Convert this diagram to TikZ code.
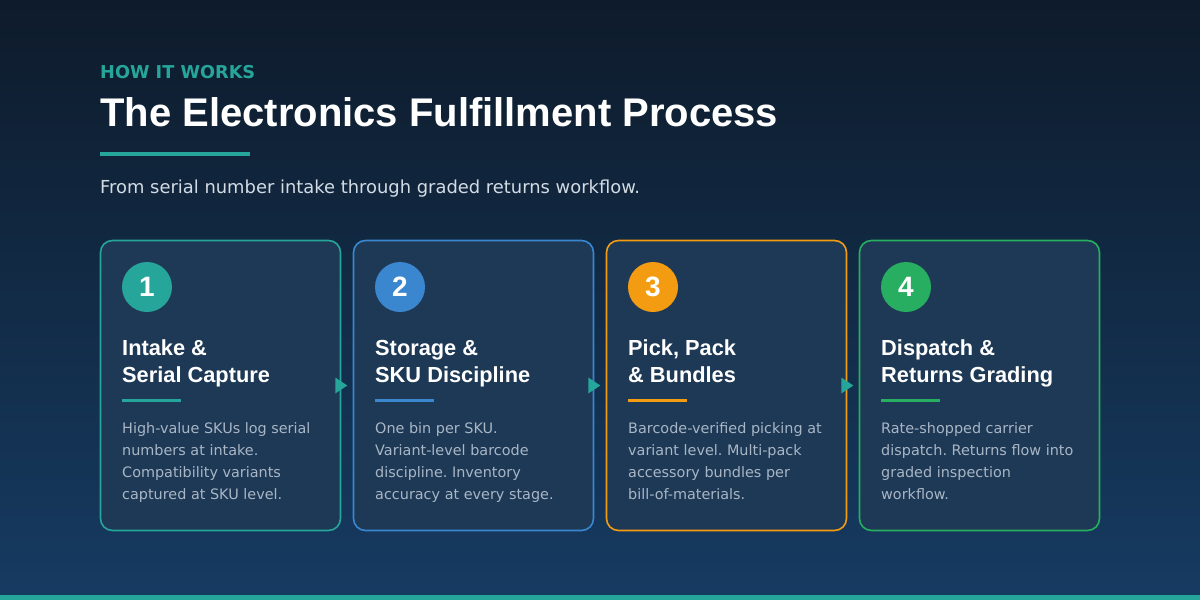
\documentclass[tikz,border=0pt]{standalone}
\usepackage{fontspec}
\setmainfont{Liberation Sans}
\newfontfamily\dejavu{DejaVu Sans}
\usetikzlibrary{calc}
\frenchspacing
\definecolor{bgtop}{HTML}{0E1B2B}
\definecolor{bgbot}{HTML}{163B62}
\definecolor{cardfill}{HTML}{1E3955}
\definecolor{cteal}{HTML}{26A69A}
\definecolor{cblue}{HTML}{3A86CF}
\definecolor{corange}{HTML}{F39C12}
\definecolor{cgreen}{HTML}{27AE60}
\definecolor{desccol}{HTML}{A8B6C6}
\definecolor{subcol}{HTML}{D3DBE4}
\begin{document}
\frenchspacing
\begin{tikzpicture}[x=1pt,y=-1pt,
  card/.style={draw=#1, fill=cardfill, line width=1.6pt, rounded corners=12pt,
    minimum width=240pt, minimum height=290pt, inner sep=0pt},
  numc/.style={circle, fill=#1, minimum size=50pt, inner sep=0pt, text=white,
    font=\fontsize{28}{32}\selectfont\bfseries},
  ttl/.style={anchor=base west, inner sep=0pt, text=white,
    font=\fontsize{21.8}{26}\selectfont\bfseries},
  desc/.style={anchor=base west, inner sep=0pt, text=desccol,
    font=\dejavu\fontsize{14.4}{22}\selectfont\frenchspacing},
  flowtip/.style={fill=cteal}
]
\useasboundingbox (0,0) rectangle (1200,600);
\shade[top color=bgtop, bottom color=bgbot] (0,0) rectangle (1200,600);
\fill[cteal] (0,595) rectangle (1200,600);

% header
\node[anchor=base west, inner sep=0pt, text=cteal, font=\dejavu\fontsize{17.7}{20}\selectfont\bfseries] (kicker) at (100,78.5) {HOW IT WORKS};
\node[anchor=base west, inner sep=0pt, text=white, font=\fontsize{40}{46}\selectfont\bfseries] (title) at (100,126.7) {The Electronics Fulfillment Process};
\fill[cteal] (100,152) rectangle (250,156);
\node[anchor=base west, inner sep=0pt, text=subcol, font=\dejavu\fontsize{17.9}{20}\selectfont] (sub) at (100,193) {From serial number intake through graded returns workflow.};

% cards
\node[card=cteal]   (c1) at (220.5,385.5) {};
\node[card=cblue]   (c2) at (473.5,385.5) {};
\node[card=corange] (c3) at (726.5,385.5) {};
\node[card=cgreen]  (c4) at (979.5,385.5) {};

% arrows between cards
\foreach \c in {c1,c2,c3}{
  \fill[flowtip] ($(\c.east)+(-6,-8)$) -- ($(\c.east)+(-6,8)$) -- ($(\c.east)+(6,0)$) -- cycle;
}

% card 1
\node[numc=cteal] (n1) at (147,287) {1};
\node[ttl] (t1a) at (122,355) {Intake \&};
\node[ttl] (t1b) at (122,382) {Serial Capture};
\fill[cteal] (122,398.5) rectangle (181,401.5);
\foreach \l [count=\k from 0] in {High-value SKUs log serial, numbers at intake., Compatibility variants, captured at SKU level.}
  \node[desc] (d1-\k) at (122,433+22*\k) {\l};

% card 2
\node[numc=cblue] (n2) at (400,287) {2};
\node[ttl] (t2a) at (375,355) {Storage \&};
\node[ttl] (t2b) at (375,382) {SKU Discipline};
\fill[cblue] (375,398.5) rectangle (434,401.5);
\foreach \l [count=\k from 0] in {One bin per SKU., Variant-level barcode, discipline. Inventory, accuracy at every stage.}
  \node[desc] (d2-\k) at (375,433+22*\k) {\l};

% card 3
\node[numc=corange] (n3) at (653,287) {3};
\node[ttl] (t3a) at (628,355) {Pick, Pack};
\node[ttl] (t3b) at (628,382) {\& Bundles};
\fill[corange] (628,398.5) rectangle (687,401.5);
\foreach \l [count=\k from 0] in {Barcode-verified picking at, variant level. Multi-pack, accessory bundles per, bill-of-materials.}
  \node[desc] (d3-\k) at (628,433+22*\k) {\l};

% card 4
\node[numc=cgreen] (n4) at (906,287) {4};
\node[ttl] (t4a) at (881,355) {Dispatch \&};
\node[ttl] (t4b) at (881,382) {Returns Grading};
\fill[cgreen] (881,398.5) rectangle (940,401.5);
\foreach \l [count=\k from 0] in {Rate-shopped carrier, dispatch. Returns flow into, graded inspection, workflow.}
  \node[desc] (d4-\k) at (881,433+22*\k) {\l};
\end{tikzpicture}
\end{document}
